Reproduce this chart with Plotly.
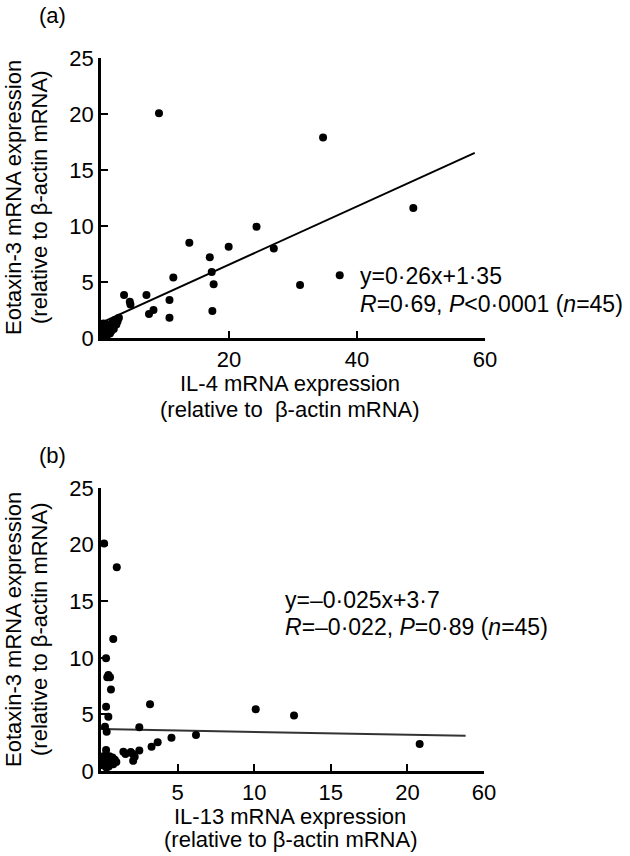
import plotly.graph_objects as go

W, H = 630, 856
FONT = "Liberation Sans, Arial, sans-serif"

# ---------------- Panel (a): IL-4 vs Eotaxin-3 ----------------
il4_x = [3.6, 4.5, 4.6, 7.1, 7.5, 8.2, 10.7, 10.7, 11.3, 13.8, 17.0, 17.3, 17.6, 17.4,
         19.95, 24.3, 27.0, 31.1, 34.7, 48.8, 37.3, 9.06,
         0.2, 0.3, 0.4, 0.5, 0.6, 0.7, 0.8, 0.9, 1.0, 1.1, 1.2, 1.3, 1.5, 1.6, 1.8, 2.0,
         2.2, 2.4, 2.6, 0.4, 0.9, 1.4, 2.8]
eot_a_y = [3.84, 3.24, 3.0, 3.84, 2.14, 2.5, 3.4, 1.8, 5.4, 8.5, 7.2, 5.9, 4.8, 2.4,
           8.15, 9.94, 8.0, 4.73, 17.9, 11.6, 5.6, 20.06,
           0.3, 0.5, 0.2, 0.8, 0.4, 1.0, 0.6, 0.3, 1.2, 0.7, 0.5, 0.9, 1.1, 0.6, 1.4, 0.8,
           1.6, 1.2, 1.5, 1.3, 0.2, 0.4, 1.8]
fit_a_slope, fit_a_intercept = 0.26, 1.35
fit_a_x = [0, 58.4]
ticks_a_x = [20, 40, 60]
ticks_y = [0, 5, 10, 15, 20, 25]

# ---------------- Panel (b): IL-13 vs Eotaxin-3 ----------------
il13_x = [0.2, 1.03, 0.8, 0.33, 0.48, 0.59, 0.41, 0.65, 0.33, 0.48, 0.26, 0.37, 0.33,
          3.2, 2.5, 10.1, 12.6, 6.2, 4.6, 3.7, 3.3, 2.5, 2.07, 2.2, 1.94, 1.46, 1.6, 2.1, 20.8,
          0.1, 0.2, 0.3, 0.4, 0.5, 0.6, 0.7, 0.8, 0.9, 1.0, 0.15, 0.35, 0.55, 0.75, 0.25, 0.45]
eot_b_y = [20.1, 18.0, 11.66, 9.96, 8.48, 8.28, 8.28, 7.2, 5.68, 4.8, 3.9, 3.47, 1.86,
           5.9, 3.86, 5.45, 4.9, 3.18, 2.94, 2.53, 2.15, 1.8, 1.5, 1.26, 1.68, 1.7, 1.5, 0.9, 2.38,
           0.5, 1.0, 0.7, 1.2, 0.4, 0.9, 1.1, 0.6, 1.0, 0.8, 1.3, 0.3, 1.3, 1.2, 0.9, 0.6]
fit_b_slope, fit_b_intercept = -0.025, 3.7
fit_b_x = [0, 23.8]
ticks_b_x = [5, 10, 15, 20, 25]
ticks_b_text = ["5", "10", "15", "20", "60"]


def px(x):
    return x / W


def py(y):
    return 1 - y / H


fig = go.Figure()

fig.add_trace(go.Scatter(x=fit_a_x, y=[fit_a_slope * v + fit_a_intercept for v in fit_a_x],
                         mode="lines", line=dict(color="black", width=2),
                         xaxis="x", yaxis="y", showlegend=False, hoverinfo="skip"))
fig.add_trace(go.Scatter(x=il4_x, y=eot_a_y, mode="markers",
                         marker=dict(color="black", size=8), cliponaxis=False,
                         xaxis="x", yaxis="y", showlegend=False))

fig.add_trace(go.Scatter(x=fit_b_x, y=[fit_b_slope * v + fit_b_intercept for v in fit_b_x],
                         mode="lines", line=dict(color="#333333", width=2),
                         xaxis="x2", yaxis="y2", showlegend=False, hoverinfo="skip"))
fig.add_trace(go.Scatter(x=il13_x, y=eot_b_y, mode="markers",
                         marker=dict(color="black", size=8), cliponaxis=False,
                         xaxis="x2", yaxis="y2", showlegend=False))

axis_common = dict(showline=True, linecolor="black", linewidth=2.5, ticks="inside",
                   ticklen=7, tickwidth=2, tickcolor="black", showgrid=False,
                   zeroline=False, tickfont=dict(family=FONT, size=22, color="black"),
                   fixedrange=True, automargin=False)

fig.update_layout(
    template="none",
    width=W, height=H,
    margin=dict(l=0, r=0, t=0, b=0, pad=0),
    paper_bgcolor="white", plot_bgcolor="white",
    font=dict(family=FONT, color="black"),
    xaxis=dict(domain=[px(101), px(485)], range=[0, 60], tickvals=ticks_a_x,
               anchor="y", **axis_common),
    yaxis=dict(domain=[py(338), py(58)], range=[0, 25], tickvals=ticks_y,
               anchor="x", **axis_common),
    xaxis2=dict(domain=[px(101), px(484)], range=[0, 25], tickvals=ticks_b_x,
                ticktext=ticks_b_text, anchor="y2", **axis_common),
    yaxis2=dict(domain=[py(771), py(488)], range=[0, 25], tickvals=ticks_y,
                anchor="x2", **axis_common),
)


def text(x, y, s, size=22, xanchor="center", angle=0):
    fig.add_annotation(x=px(x), y=py(y), xref="paper", yref="paper", text=s,
                       showarrow=False, xanchor=xanchor, yanchor="middle",
                       textangle=angle, font=dict(family=FONT, size=size, color="black"))


# panel labels
text(52, 15, "(a)")
text(52, 456, "(b)")

# y-axis titles
for cy in (198, 630):
    text(13, cy, "Eotaxin-3 mRNA expression", angle=-90)
    text(39, cy, "(relative to β-actin mRNA)", angle=-90)

# x-axis titles
text(290, 383, "IL-4 mRNA expression")
text(290, 409, "(relative to  β-actin mRNA)")
text(290, 816, "IL-13 mRNA expression")
text(290, 839, "(relative to β-actin mRNA)")

# regression statistics
text(358, 276, "y=0·26x+1·35", size=23, xanchor="left")
text(358, 304, "<i>R</i>=0·69, <i>P</i><0·0001 (<i>n</i>=45)", size=23, xanchor="left")
text(283, 600, "y=–0·025x+3·7", size=23, xanchor="left")
text(283, 627, "<i>R</i>=–0·022, <i>P</i>=0·89 (<i>n</i>=45)", size=23, xanchor="left")

fig.write_html("out.html", config={"displayModeBar": False},
               post_script="document.body.style.margin='0';document.body.style.overflow='hidden';")
